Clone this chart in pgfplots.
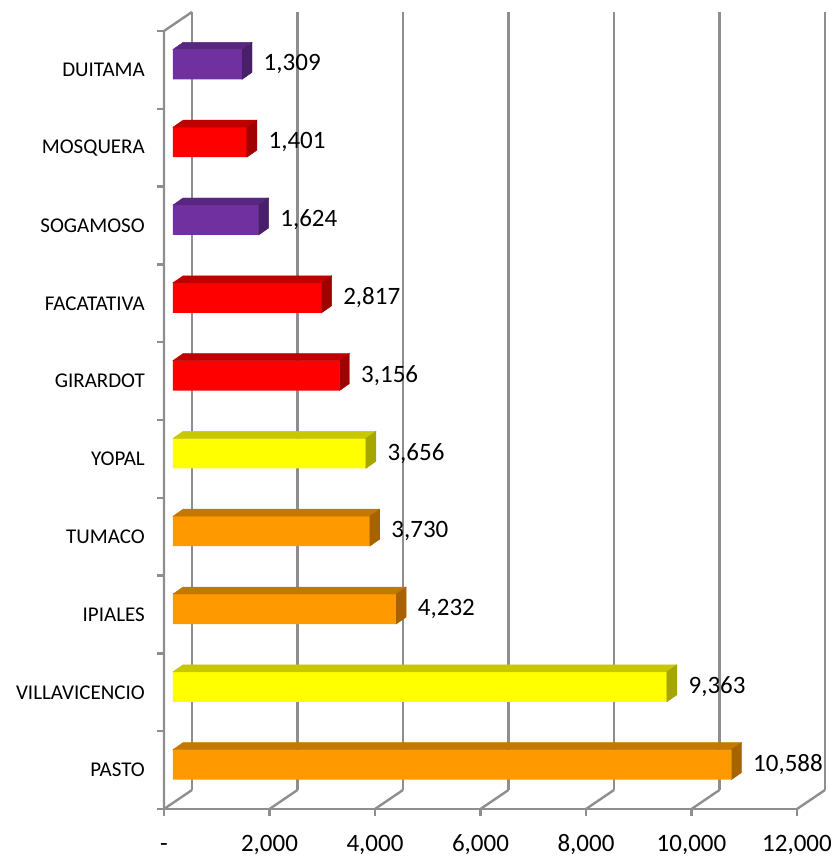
\documentclass[border=0pt]{standalone}
\usepackage{pgfplots}
\pgfplotsset{compat=1.18}
\usepackage{fontspec}
\setmainfont{Carlito}
\definecolor{gridc}{HTML}{8E8E8E}
\definecolor{orF}{HTML}{FF9900}\definecolor{orT}{HTML}{C47800}\definecolor{orS}{HTML}{A66300}
\definecolor{yeF}{HTML}{FFFF00}\definecolor{yeT}{HTML}{C8C800}\definecolor{yeS}{HTML}{A6A600}
\definecolor{reF}{HTML}{FF0000}\definecolor{reT}{HTML}{C00000}\definecolor{reS}{HTML}{A00000}
\definecolor{puF}{HTML}{7030A0}\definecolor{puT}{HTML}{582680}\definecolor{puS}{HTML}{4A1F6A}
\pgfdeclareplotmark{nothing}{}
\tikzset{gl/.style={gridc, line width=2.4pt, line cap=butt, line join=miter}}
\pgfplotsset{
  frontbar/.style={xbar, bar width=30pt, fill=#1, draw=none, point meta=x,
    nodes near coords={\pgfmathprintnumber[fixed,precision=0,1000 sep={,}]{\pgfplotspointmeta}},
    every node near coord/.append style={anchor=west, inner sep=0pt, xshift=21.5pt,
      font=\fontsize{25}{30}\selectfont, text=black}},
  faces/.style 2 args={scatter, only marks, mark=nothing,
    visualization depends on={x \as \v},
    scatter/@pre marker code/.code={%
      \pgfmathsetmacro\L{-\v*0.05275}%
      \pgfmathsetmacro\Lb{10-\v*0.05275}%
      \fill[#1] (\L pt,15pt) -- (0pt,15pt) -- (10pt,22pt) -- (\Lb pt,22pt) -- cycle;
      \fill[#2] (0pt,-15pt) -- (0pt,15pt) -- (10pt,22pt) -- (10pt,-8pt) -- cycle;},
    scatter/@post marker code/.code={}}
}
\begin{document}
\begin{tikzpicture}
\begin{axis}[
  scale only axis, width=633pt, height=778pt,
  xmin=0, xmax=12000, ymin=-0.5, ymax=9.5,
  clip=false,
  axis line style={draw=none},
  major tick length=0pt,
  /pgf/number format/assume math mode=true,
  xtick={0,2000,4000,6000,8000,10000,12000},
  xticklabels={-, {2,000}, {4,000}, {6,000}, {8,000}, {10,000}, {12,000}},
  ytick={0,1,2,3,4,5,6,7,8,9},
  yticklabels={PASTO,VILLAVICENCIO,IPIALES,TUMACO,YOPAL,GIRARDOT,FACATATIVA,SOGAMOSO,MOSQUERA,DUITAMA},
  xticklabel style={font=\fontsize{25}{30}\selectfont, anchor=base, xshift=-9pt, yshift=-48pt, inner sep=0pt},
  yticklabel style={font=\fontsize{21}{25}\selectfont, anchor=east, xshift=-28pt, yshift=-5.5pt, inner sep=0pt},
]
% back wall grid lines and floor
\pgfplotsinvokeforeach{0,2000,4000,6000,8000,10000,12000}{
  \draw[gl] ([shift={(19pt,13.5pt)}]axis cs:#1,-0.5) -- ([shift={(19pt,13.5pt)}]axis cs:#1,9.5);
  \draw[gl] ([shift={(-9pt,-5.5pt)}]axis cs:#1,-0.5) -- ([shift={(19pt,13.5pt)}]axis cs:#1,-0.5);
  \draw[gl] ([shift={(-9pt,-5.5pt)}]axis cs:#1,-0.5) -- ([shift={(-9pt,-12.5pt)}]axis cs:#1,-0.5);
}
\draw[gl] ([shift={(-9pt,-5.5pt)}]axis cs:0,-0.5) -- ([shift={(-9pt,-5.5pt)}]axis cs:12000,-0.5);
\draw[gl] ([shift={(-9pt,-5.5pt)}]axis cs:0,-0.5) -- ([shift={(-9pt,-5.5pt)}]axis cs:0,9.5)
   -- ([shift={(19pt,13.5pt)}]axis cs:0,9.5);
\pgfplotsinvokeforeach{-0.5,0.5,1.5,2.5,3.5,4.5,5.5,6.5,7.5,8.5,9.5}{
  \draw[gl] ([shift={(-9pt,-5.5pt)}]axis cs:0,#1) -- ([shift={(-16pt,-5.5pt)}]axis cs:0,#1);
}
% orange
\addplot[frontbar=orF] coordinates {(10588,0) (4232,2) (3730,3)};
\addplot[faces={orT}{orS}] coordinates {(10588,0) (4232,2) (3730,3)};
% yellow
\addplot[frontbar=yeF] coordinates {(9363,1) (3656,4)};
\addplot[faces={yeT}{yeS}] coordinates {(9363,1) (3656,4)};
% red
\addplot[frontbar=reF] coordinates {(3156,5) (2817,6) (1401,8)};
\addplot[faces={reT}{reS}] coordinates {(3156,5) (2817,6) (1401,8)};
% purple
\addplot[frontbar=puF] coordinates {(1624,7) (1309,9)};
\addplot[faces={puT}{puS}] coordinates {(1624,7) (1309,9)};
\end{axis}
\pgfresetboundingbox
\path[use as bounding box] (-173pt,-61.5pt) rectangle (661pt,803.5pt);
\end{tikzpicture}
\end{document}
